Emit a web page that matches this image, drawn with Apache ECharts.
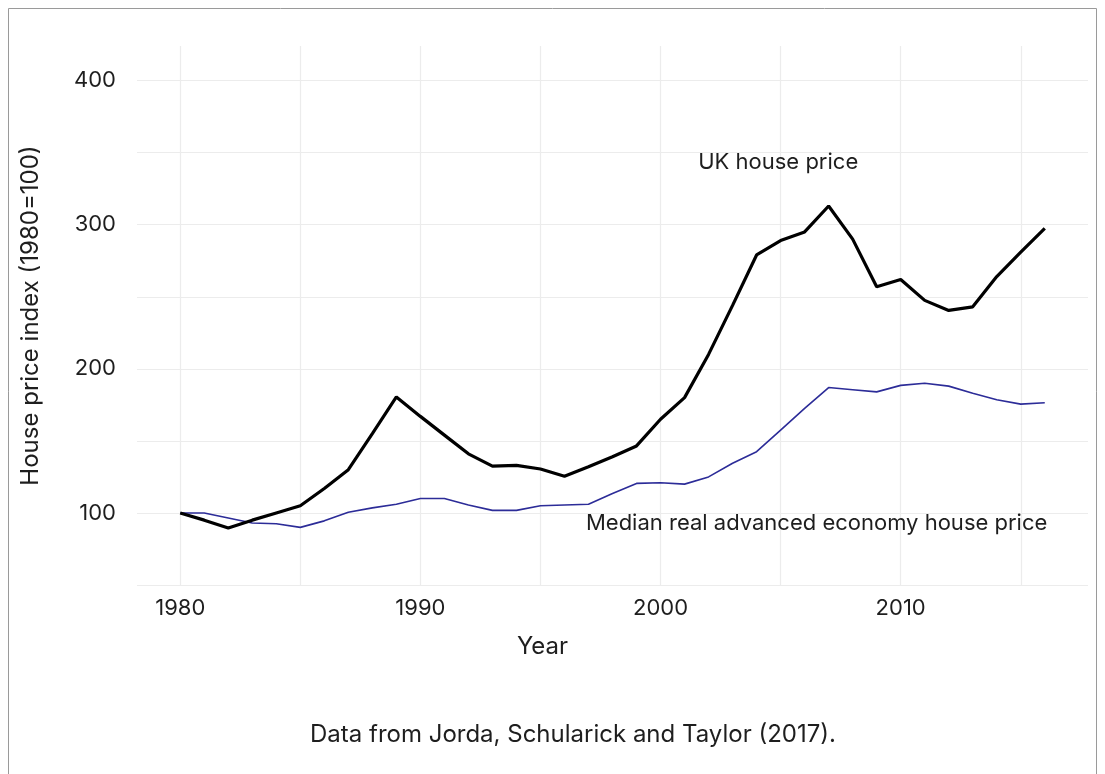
<!DOCTYPE html>
<html>
<head>
<meta charset="utf-8">
<script src="https://cdn.jsdelivr.net/npm/echarts@6/dist/echarts.min.js"></script>
<style>
html,body{margin:0;padding:0;background:#fff;}
#chart{width:1105px;height:774px;}
</style>
</head>
<body>
<div id="chart"></div>
<script>
const years = [1980,1981,1982,1983,1984,1985,1986,1987,1988,1989,
  1990,1991,1992,1993,1994,1995,1996,1997,1998,1999,
  2000,2001,2002,2003,2004,2005,2006,2007,2008,2009,
  2010,2011,2012,2013,2014,2015,2016];
const ukHousePrice = [100,95,89.5,95,100,105,117,130,155,180.5,
  167,154,141,132.5,133,130.5,125.5,132,139,146.5,
  165,180,210,244,279,289,295,313,290,257,
  262,247.5,240.5,243,264,281,297.5];
const medianAdvanced = [100,100,96.5,93,92.5,90,94.5,100.5,103.5,106,
  110,110,105.5,101.8,101.8,105,105.5,106,113.5,120.5,
  121,120,125,134.5,142.5,157.5,172.5,187,185.5,184,
  188.5,190,188,183,178.5,175.5,176.5];
const xTickValues = [1980,1985,1990,1995,2000,2005,2010,2015];
const xLabelValues = [1980,1990,2000,2010];
const annotationTexts = ['UK house price','Median real advanced economy house price'];
const annotationYears = [2004.9,2006.5];
const annotationValues = [343,93];
const captionText = 'Data from Jorda, Schularick and Taylor (2017).';

const FONT = 'Inter, "Noto Sans", sans-serif';
const TXT = '#1e1e1e';
const chart = echarts.init(document.getElementById('chart'));
const pair = arr => years.map((y,i)=>[y,arr[i]]);
chart.setOption({
  animation:false,
  backgroundColor:'#fff',
  graphic:[
    {type:'rect',shape:{x:8.5,y:8.5,width:1088,height:790},style:{fill:'none',stroke:'#9a9a9a',lineWidth:1},silent:true},
    {type:'text',x:573,y:735,style:{text:captionText,font:'24px '+FONT,fill:TXT,align:'center',verticalAlign:'middle'},silent:true}
  ],
  grid:{left:137,right:17,top:46,bottom:189,containLabel:false},
  xAxis:{
    type:'value',min:1978.2,max:2017.8,
    name:'Year',nameLocation:'middle',nameGap:50,
    nameTextStyle:{fontFamily:FONT,fontSize:24,color:TXT,padding:[0,140,0,0]},
    axisLine:{show:false},
    axisTick:{show:false,customValues:xTickValues},
    axisLabel:{customValues:xLabelValues,fontFamily:FONT,fontSize:22,color:TXT,margin:12,formatter:v=>String(v)},
    splitLine:{show:true,lineStyle:{color:'#ececec',width:1.2}}
  },
  yAxis:{
    type:'value',min:50,max:424,interval:50,
    name:'House price index (1980=100)',nameLocation:'middle',nameGap:94,nameRotate:90,
    nameTextStyle:{fontFamily:FONT,fontSize:24,color:TXT},
    axisLine:{show:false},axisTick:{show:false},
    axisLabel:{fontFamily:FONT,fontSize:22,color:TXT,margin:21,formatter:v=>(v%100===0?String(v):'')},
    splitLine:{show:true,showMaxLine:false,lineStyle:{color:'#ececec',width:1.2}}
  },
  series:[
    {type:'line',name:'UK house price',data:pair(ukHousePrice),showSymbol:false,
     lineStyle:{color:'#000',width:3.2},itemStyle:{color:'#000'},z:3},
    {type:'line',name:'Median real advanced economy house price',data:pair(medianAdvanced),showSymbol:false,
     lineStyle:{color:'#2c2c98',width:1.6},itemStyle:{color:'#2c2c98'},z:2},
    {type:'scatter',silent:true,symbolSize:0,itemStyle:{opacity:1},
     data:annotationTexts.map((t,i)=>({name:t,value:[annotationYears[i],annotationValues[i]]})),
     label:{show:true,position:'inside',formatter:p=>p.name,fontFamily:FONT,fontSize:22,color:TXT,opacity:1}}
  ]
});
</script>
</body>
</html>
